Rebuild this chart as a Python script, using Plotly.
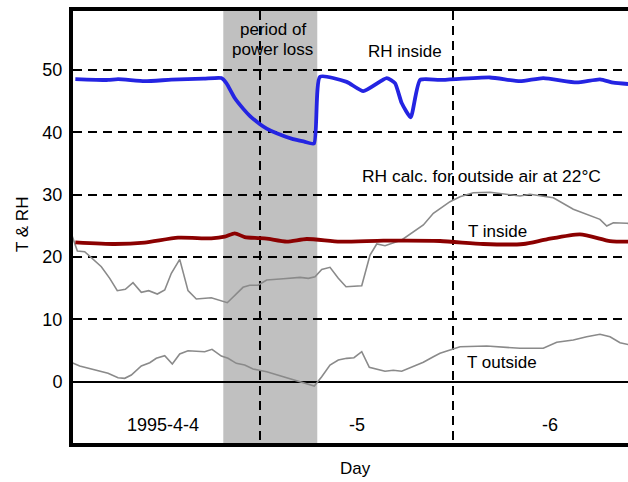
import plotly.graph_objects as go

# hours since 1995-04-04 00:00
rh_in_h = [1.07, 5.13, 6.37, 9.68, 13.0, 17.0, 19.20, 19.82, 20.86, 21.9, 22.76, 24.0, 24.83, 26.07,
           28.1, 29.5, 30.70, 31.45, 34.76, 36.83, 39.73, 40.76, 41.59, 42.71, 43.87, 46.35, 52.56,
           56.28, 59.17, 63.32, 66.21, 67.87, 69.7]
rh_in = [48.55, 48.4, 48.55, 48.2, 48.45, 48.6, 48.7, 47.9, 45.5, 43.8, 42.6, 41.3, 40.6, 39.85,
         38.9, 38.5, 38.2, 48.9, 48.1, 46.6, 48.7, 47.9, 44.7, 42.4, 48.4, 48.4, 48.8,
         48.2, 48.7, 48.0, 48.5, 47.96, 47.75]

t_in_h = [1.07, 5.96, 9.68, 13.82, 17.95, 19.62, 20.86, 22.10, 23.75, 24.83, 27.32, 29.80, 33.93,
          39.31, 46.35, 51.72, 56.69, 59.60, 63.73, 67.46, 69.7]
t_in = [22.34, 22.07, 22.28, 23.08, 22.98, 23.24, 23.78, 23.19, 23.03, 22.92, 22.44, 22.87, 22.44,
        22.6, 22.55, 22.07, 22.07, 22.82, 23.63, 22.55, 22.44]

rh_out_h = [0.5, 1.32, 2.23, 4.30, 5.34, 6.28, 7.28, 8.23, 9.26, 10.18, 11.25, 12.17, 12.99, 14.03,
            15.06, 16.09, 17.95, 19.94, 21.89, 22.72, 23.75, 24.83, 26.89, 28.97, 30.00, 30.83,
            31.66, 32.69, 33.72, 34.68, 36.63, 37.66, 38.49, 39.52, 41.59, 44.28, 45.52, 46.35,
            47.59, 48.83, 50.48, 52.56, 54.63, 56.28, 57.52, 60.42, 62.90, 64.97, 66.21, 67.05,
            67.87, 69.53, 70.0]
rh_out = [24.0, 20.95, 20.84, 18.43, 16.56, 14.58, 14.8, 15.86, 14.32, 14.58, 14.04, 14.69, 17.37, 19.61,
          14.58, 13.24, 13.45, 12.65, 15.12, 15.44, 15.45, 16.29, 16.5, 16.72, 16.56, 16.82,
          18.0, 18.33, 16.56, 15.22, 15.38, 20.3, 22.07, 21.8, 22.71, 25.12, 27.0, 27.8,
          28.86, 29.66, 30.3, 30.37, 30.05, 29.78, 30.05, 29.5, 27.64, 26.56, 26.03, 24.96,
          25.49, 25.39, 25.38]

t_out_h = [0.5, 1.61, 5.13, 6.37, 7.20, 8.02, 9.26, 10.31, 11.12, 12.17, 13.11, 14.03, 15.06, 17.13,
           18.04, 19.20, 20.03, 21.06, 22.10, 23.13, 23.75, 24.83, 30.74, 31.66, 32.69, 33.72,
           34.76, 35.67, 36.63, 37.57, 39.52, 40.55, 41.59, 44.28, 45.52, 46.35, 48.83, 52.15,
           56.28, 59.17, 60.84, 62.90, 64.56, 66.21, 67.46, 68.70, 70.0]
t_out = [3.1, 2.49, 1.32, 0.61, 0.51, 1.04, 2.49, 3.02, 3.72, 4.14, 2.81, 4.41, 4.94, 4.78,
         5.16, 4.09, 3.72, 2.92, 2.65, 2.01, 1.85, 1.58, -0.72, 0.77, 2.65, 3.45,
         3.72, 3.82, 4.78, 2.28, 1.64, 1.80, 1.64, 3.08, 3.98, 4.52, 5.59, 5.70,
         5.33, 5.33, 6.29, 6.66, 7.19, 7.58, 7.19, 6.23, 5.86]

power_loss = [19.44, 31.11]
day_labels = ["1995-4-4", "-5", "-6"]
day_label_h = [12, 36, 60]
y_ticks = [0, 10, 20, 30, 40, 50]

FONT = "Liberation Sans, Arial, Helvetica, sans-serif"
GRAY = "#8a8a8a"

fig = go.Figure()
fig.add_trace(go.Scatter(x=rh_out_h, y=rh_out, mode="lines", line=dict(color=GRAY, width=1.6)))
fig.add_trace(go.Scatter(x=t_out_h, y=t_out, mode="lines", line=dict(color=GRAY, width=1.6)))
fig.add_trace(go.Scatter(x=t_in_h, y=t_in, mode="lines",
                         line=dict(color="#8b0000", width=3.8, shape="spline", smoothing=0.6)))
fig.add_trace(go.Scatter(x=rh_in_h, y=rh_in, mode="lines",
                         line=dict(color="#2424e2", width=3.8, shape="spline", smoothing=0.5)))

fig.add_shape(type="rect", xref="x", yref="paper", x0=power_loss[0], x1=power_loss[1], y0=0, y1=1,
              fillcolor="#c0c0c0", line=dict(width=0), layer="below")

ann = []
def txt(x, y, s, size=17):
    ann.append(dict(x=x, y=y, xref="x", yref="y", text=s, showarrow=False,
                    font=dict(size=size, color="black", family=FONT), xanchor="center", yanchor="middle"))

txt(25.6, 56.5, "period of")
txt(25.6, 53.3, "power loss")
txt(41.94, 52.9, "RH inside")
txt(51.53, 33.0, "RH calc. for outside air at 22°C", 17.4)
txt(53.49, 24.03, "T inside")
txt(54.02, 3.02, "T outside")
for h, s in zip(day_label_h, day_labels):
    txt(h, -7.0, s, 18)

ann.append(dict(x=(355 - 73) / 555, y=-(468 - 443) / 432, xref="paper", yref="paper", text="Day",
                showarrow=False, font=dict(size=17, color="black", family=FONT),
                xanchor="center", yanchor="middle"))
ann.append(dict(x=(22 - 73) / 555, y=(443 - 225) / 432, xref="paper", yref="paper", text="T & RH",
                showarrow=False, textangle=-90, font=dict(size=17, color="black", family=FONT),
                xanchor="center", yanchor="middle"))

fig.update_layout(
    width=628, height=482,
    margin=dict(l=73, r=0, t=11, b=39),
    paper_bgcolor="white", plot_bgcolor="white",
    showlegend=False,
    font=dict(family=FONT, size=17, color="black"),
    annotations=ann,
    xaxis=dict(range=[0.78, 69.69], tickvals=[24, 48], showticklabels=False, ticks="",
               showgrid=True, gridcolor="black", gridwidth=1.8, griddash="9px,6px",
               showline=True, mirror=True, linecolor="black", linewidth=4, zeroline=False),
    yaxis=dict(range=[-9.87, 59.47], tickvals=y_ticks, ticks="", ticklabelstandoff=3,
               showgrid=True, gridcolor="black", gridwidth=1.8, griddash="9px,6px",
               zeroline=True, zerolinecolor="black", zerolinewidth=2,
               showline=True, linecolor="black", linewidth=4,
               tickfont=dict(size=18, family=FONT, color="black")),
)

fig.write_html("out.html")
